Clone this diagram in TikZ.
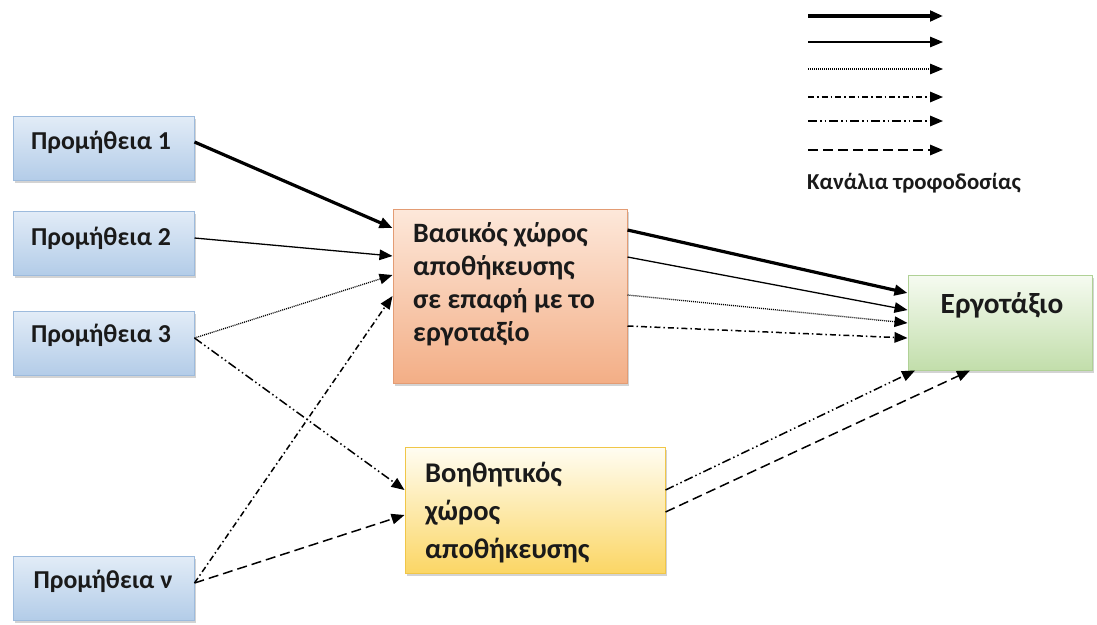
\documentclass[tikz,border=0pt]{standalone}
\usepackage{fontspec}
\setmainfont{Carlito}[BoldFont={Carlito Bold}]
\usetikzlibrary{arrows.meta,calc,shadows}

\definecolor{txt}{HTML}{1A1A1A}
\definecolor{bluetop}{HTML}{E2ECF7}
\definecolor{bluebot}{HTML}{B3CCE8}
\definecolor{blueline}{HTML}{9DBBDD}
\definecolor{orgtop}{HTML}{FDE8DA}
\definecolor{orgbot}{HTML}{F3AE86}
\definecolor{orgline}{HTML}{E39C74}
\definecolor{grntop}{HTML}{F6FBF1}
\definecolor{grnbot}{HTML}{C2DEAB}
\definecolor{grnline}{HTML}{B0D196}
\definecolor{ylwtop}{HTML}{FFFDF2}
\definecolor{ylwbot}{HTML}{FBD665}
\definecolor{ylwline}{HTML}{F0C648}

\tikzset{
  box/.style={rectangle, draw, line width=1pt, inner sep=0pt,
    drop shadow={opacity=0.35, shadow xshift=2pt, shadow yshift=-2.5pt}},
  supply/.style={box, draw=blueline, top color=bluetop, bottom color=bluebot,
    minimum width=181pt, minimum height=64pt},
  lbl/.style={text=txt, inner sep=0pt},
  supplytxt/.style={lbl, font=\fontsize{25.8}{30}\selectfont\bfseries},
  chan/.style={-{Triangle[length=13pt,width=10.5pt]}, black},
  thickch/.style={chan, line width=3.2pt},
  thinch/.style={chan, line width=1.3pt},
  dotch/.style={chan, line width=1.3pt, dash pattern=on 1pt off 1pt},
  dashdotch/.style={chan, line width=1.5pt, dash pattern=on 6pt off 3pt on 1.5pt off 3pt},
  dashdotdotch/.style={chan, line width=1.5pt, dash pattern=on 9pt off 3pt on 1.5pt off 3pt on 1.5pt off 3pt},
  dashch/.style={chan, line width=1.5pt, dash pattern=on 10pt off 5pt},
}

\begin{document}
\begin{tikzpicture}[x=1pt, y=-1pt]
\useasboundingbox (0,0) rectangle (1097,624);

% supply sources
\node[supply] (p1) at (103.5,148.5) {};
\node[supply] (p2) at (103.5,243) {};
\node[supply] (p3) at (103.5,343.5) {};
\node[supply] (pn) at (103.5,588) {};
\node[supplytxt] (p1t) at (101,142) {Προμήθεια 1};
\node[supplytxt] (p2t) at (101,238) {Προμήθεια 2};
\node[supplytxt] (p3t) at (101,335) {Προμήθεια 3};
\node[supplytxt] (pnt) at (103,581) {Προμήθεια ν};

% storage areas and site
\node[box, draw=orgline, top color=orgtop, bottom color=orgbot,
      minimum width=234pt, minimum height=174pt] (basic) at (510,296) {};
\node[lbl, anchor=west, align=left, font=\fontsize{28}{33}\selectfont\bfseries] (basict) at (413,284)
  {Βασικός χώρος\\αποθήκευσης\\σε επαφή με το\\εργοταξίο};

\node[box, draw=ylwline, top color=ylwtop, bottom color=ylwbot,
      minimum width=260pt, minimum height=126pt] (aux) at (535,510) {};
\node[lbl, anchor=west, align=left, font=\fontsize{28.5}{38}\selectfont\bfseries] (auxt) at (425,513)
  {Βοηθητικός\\χώρος\\αποθήκευσης};

\node[box, draw=grnline, top color=grntop, bottom color=grnbot,
      minimum width=184pt, minimum height=95pt] (site) at (1000,322.5) {};
\node[lbl, font=\fontsize{29.3}{33}\selectfont\bfseries] (sitet) at (1002,305) {Εργοτάξιο};

% supply channels into the storage areas
\draw[thickch]     ($(p1.east)+(0,-6.5)$) -- ($(basic.west)+(0,-68)$);
\draw[thinch]      ($(p2.east)+(0,-5)$)   -- ($(basic.west)+(0,-40)$);
\draw[dotch]       ($(p3.east)+(0,-5.5)$) -- ($(basic.west)+(0,-21)$);
\draw[dashdotch]   ($(pn.east)+(0,-5)$)   -- ($(basic.west)+(0,0)$);
\draw[dashdotdotch]($(p3.east)+(0,-5.5)$) -- ($(aux.west)+(0,-20)$);
\draw[dashch]      ($(pn.east)+(0,-5)$)   -- ($(aux.west)+(0,5)$);

% channels towards the site
\draw[thickch]     ($(basic.east)+(0,-66)$) -- ($(site.west)+(0,-29.5)$);
\draw[thinch]      ($(basic.east)+(0,-39)$) -- ($(site.west)+(0,-12.5)$);
\draw[dotch]       ($(basic.east)+(0,-1)$)  -- ($(site.west)+(0,0.5)$);
\draw[dashdotch]   ($(basic.east)+(0,30)$)  -- ($(site.west)+(0,15.5)$);
\draw[dashdotdotch]($(aux.east)+(0,-20)$)   -- ($(site.south)+(-85,0)$);
\draw[dashch]      ($(aux.east)+(0,2)$)     -- ($(site.south)+(-30,0)$);

% legend
\foreach \i/\yy in {1/16,2/42,3/69,4/97,5/121,6/150}{
  \coordinate (ls\i) at (808,\yy);
  \coordinate (le\i) at (943,\yy);
}
\draw[thickch]      (ls1) -- (le1);
\draw[thinch]       (ls2) -- (le2);
\draw[dotch]        (ls3) -- (le3);
\draw[dashdotch]    (ls4) -- (le4);
\draw[dashdotdotch] (ls5) -- (le5);
\draw[dashch]       (ls6) -- (le6);
\node[lbl, font=\fontsize{22.8}{26}\selectfont\bfseries] (legt) at (914,183) {Κανάλια τροφοδοσίας};
\end{tikzpicture}
\end{document}
